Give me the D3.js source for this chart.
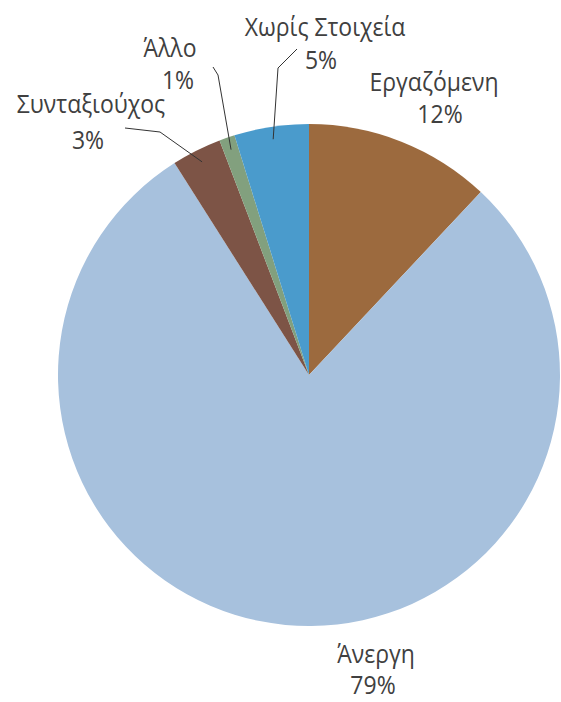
<!DOCTYPE html>
<html>
<head>
<meta charset="utf-8">
<script src="https://cdn.jsdelivr.net/npm/d3@7"></script>
<style>
  html, body { margin: 0; padding: 0; background: #fff; }
  svg { display: block; }
  text { font-family: "Open Sans", "Noto Sans", sans-serif; fill: #404040; }
</style>
</head>
<body>
<svg id="chart" width="561" height="702"></svg>
<script>
// ---- data ----
const categories = ["Εργαζόμενη", "Άνεργη", "Συνταξιούχος", "Άλλο", "Χωρίς Στοιχεία"];
const values = [12.0, 79.0, 3.2, 1.0, 4.8];
const colors = ["#9C6A3E", "#A7C1DD", "#7D5446", "#82A07E", "#4A9BCC"];

// ---- label layout (name line baseline / percent line baseline / centre x) ----
const labelLayout = {
  "Εργαζόμενη":     { x: 434, y1: 91,  x2: 440, y2: 123, leader: null },
  "Άνεργη":         { x: 376, y1: 663, x2: 373, y2: 694, leader: null },
  "Συνταξιούχος":   { x: 91,  y1: 113, x2: 88,  y2: 149, leader: [[160, 132], [125, 128]] },
  "Άλλο":           { x: 170, y1: 57,  x2: 178, y2: 89,  leader: [[218, 75], [213, 67]] },
  "Χωρίς Στοιχεία": { x: 325, y1: 36,  x2: 321, y2: 69,  leader: [[278, 68], [297, 49]] }
};

const cx = 309, cy = 375, R = 251;
const fontSize = 25, squeeze = 0.92;

const svg = d3.select("#chart");
const data = categories.map((c, i) => ({ name: c, value: values[i], color: colors[i] }));

const pie = d3.pie().sort(null).value(d => d.value);
const arc = d3.arc().innerRadius(0).outerRadius(R);
const arcs = pie(data);

const g = svg.append("g").attr("transform", `translate(${cx},${cy})`);
g.selectAll("path.slice")
  .data(arcs)
  .join("path")
  .attr("class", "slice")
  .attr("d", arc)
  .attr("fill", d => d.data.color);

const pct = d3.format(".0%");

// leader lines
const inner = d3.arc().innerRadius(R * 0.95).outerRadius(R * 0.95);
arcs.forEach(a => {
  const L = labelLayout[a.data.name];
  if (!L.leader) return;
  const [px, py] = inner.centroid(a);
  const pts = [[cx + px, cy + py], ...L.leader];
  svg.append("path")
    .attr("d", d3.line()(pts))
    .attr("fill", "none")
    .attr("stroke", "#333")
    .attr("stroke-width", 1);
});

// labels
arcs.forEach(a => {
  const L = labelLayout[a.data.name];
  svg.append("text")
    .attr("transform", `translate(${L.x},${L.y1}) scale(${squeeze},1)`)
    .attr("text-anchor", "middle")
    .attr("font-size", fontSize)
    .text(a.data.name);
  svg.append("text")
    .attr("transform", `translate(${L.x2},${L.y2}) scale(${squeeze},1)`)
    .attr("text-anchor", "middle")
    .attr("font-size", fontSize)
    .text(pct(Math.round(a.data.value) / 100));
});
</script>
</body>
</html>
